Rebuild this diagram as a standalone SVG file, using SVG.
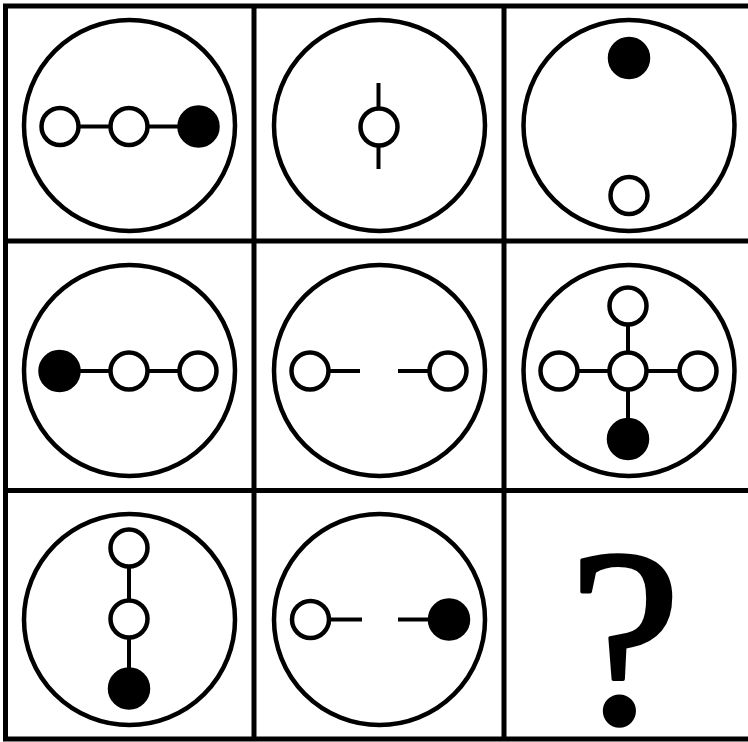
<svg xmlns="http://www.w3.org/2000/svg" width="748" height="742" viewBox="0 0 748 742">
<style>
.grid{fill:none;stroke:#000;stroke-width:5}
.big{fill:none;stroke:#000;stroke-width:4.5}
.o{fill:#fff;stroke:#000;stroke-width:4.5}
.f{fill:#000;stroke:#000;stroke-width:4.5}
.c{stroke:#000;stroke-width:4;fill:none}
.q{font-family:"Liberation Serif","Times New Roman",serif;font-size:252px;fill:#000;stroke:#000;stroke-width:3.5;stroke-linejoin:round}
</style>
<rect width="748" height="742" fill="#fff"/>
<g id="grid">
<rect class="grid" x="5.5" y="6" width="780" height="733"/>
<line class="grid" x1="254" y1="6" x2="254" y2="739"/>
<line class="grid" x1="504" y1="6" x2="504" y2="739"/>
<line class="grid" x1="5.5" y1="241" x2="748" y2="241"/>
<line class="grid" x1="5.5" y1="490.5" x2="748" y2="490.5"/>
</g>
<g id="connectors">
<line class="c" x1="60" y1="126.5" x2="198" y2="126.5"/>
<line class="c" x1="378.5" y1="83" x2="378.5" y2="169"/>
<line class="c" x1="59.5" y1="371" x2="198" y2="371"/>
<line class="c" x1="310" y1="371" x2="360" y2="371"/>
<line class="c" x1="398" y1="371" x2="448" y2="371"/>
<line class="c" x1="559" y1="371" x2="698" y2="371"/>
<line class="c" x1="628" y1="306" x2="628" y2="439"/>
<line class="c" x1="129" y1="548" x2="129" y2="688.5"/>
<line class="c" x1="310.5" y1="619.5" x2="362" y2="619.5"/>
<line class="c" x1="398" y1="619.5" x2="449" y2="619.5"/>
</g>
<g id="cell-1-1">
<circle class="big" cx="129.5" cy="125.5" r="105.5"/>
<circle class="o" cx="60" cy="126.5" r="18.5"/>
<circle class="o" cx="129" cy="126.5" r="18.5"/>
<circle class="f" cx="198.5" cy="126.5" r="19"/>
</g>
<g id="cell-1-2">
<circle class="big" cx="379.5" cy="125.5" r="105.5"/>
<circle class="o" cx="379" cy="127" r="18.5"/>
</g>
<g id="cell-1-3">
<circle class="big" cx="629" cy="125.5" r="105.5"/>
<circle class="f" cx="629" cy="58" r="19"/>
<circle class="o" cx="629" cy="195.5" r="18.5"/>
</g>
<g id="cell-2-1">
<circle class="big" cx="129.5" cy="370.5" r="105.5"/>
<circle class="f" cx="59.5" cy="371" r="19"/>
<circle class="o" cx="129" cy="371" r="18.5"/>
<circle class="o" cx="198" cy="371" r="18.5"/>
</g>
<g id="cell-2-2">
<circle class="big" cx="379.5" cy="370.5" r="105.5"/>
<circle class="o" cx="310" cy="371" r="18.5"/>
<circle class="o" cx="448" cy="371" r="18.5"/>
</g>
<g id="cell-2-3">
<circle class="big" cx="629" cy="370.5" r="105.5"/>
<circle class="o" cx="628" cy="306" r="18.5"/>
<circle class="o" cx="559" cy="371" r="18.5"/>
<circle class="o" cx="628" cy="371" r="18.5"/>
<circle class="o" cx="698" cy="371" r="18.5"/>
<circle class="f" cx="628" cy="439" r="19"/>
</g>
<g id="cell-3-1">
<circle class="big" cx="129.5" cy="619.5" r="105.5"/>
<circle class="o" cx="129" cy="548" r="18.5"/>
<circle class="o" cx="129" cy="619" r="18.5"/>
<circle class="f" cx="129" cy="688.5" r="19"/>
</g>
<g id="cell-3-2">
<circle class="big" cx="379.5" cy="619.5" r="105.5"/>
<circle class="o" cx="310.5" cy="619.5" r="18.5"/>
<circle class="f" cx="449" cy="619.5" r="19"/>
</g>
<g id="cell-3-3">
<text class="q" x="625" y="722" text-anchor="middle">?</text>
</g>
</svg>
